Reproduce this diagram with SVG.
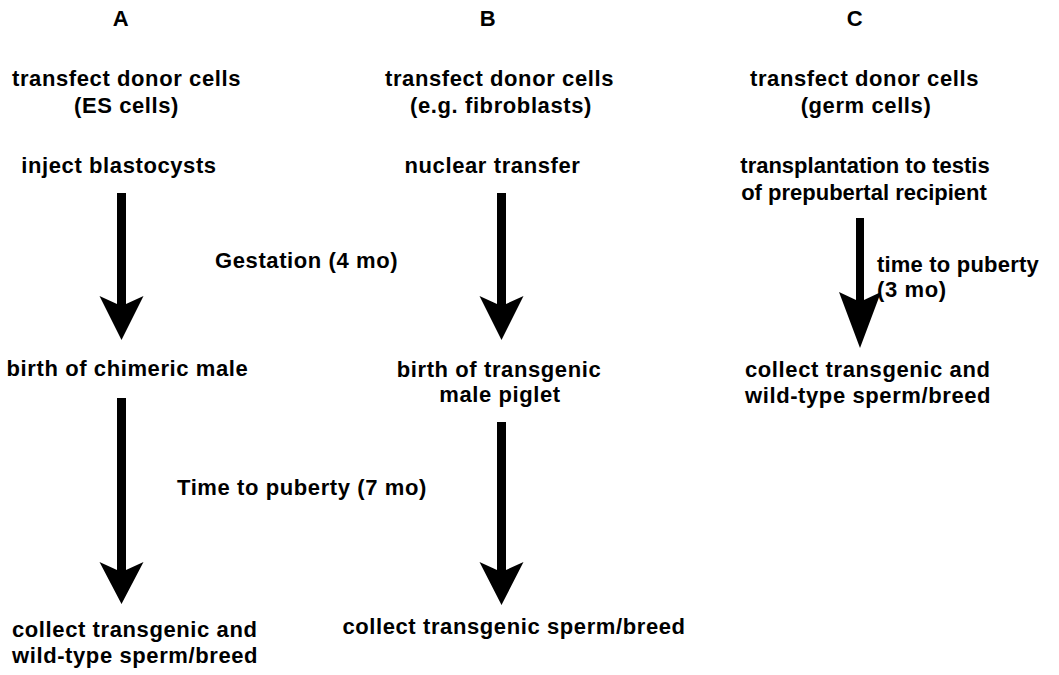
<svg xmlns="http://www.w3.org/2000/svg" width="1059" height="675" viewBox="0 0 1059 675">
<style>
text{font-family:"Liberation Sans",Arial,sans-serif;font-weight:bold;font-size:22px;letter-spacing:0.6px;fill:#000}
.m{text-anchor:middle}
.t{letter-spacing:0px}
.arrow{fill:#000;stroke:none}
</style>
<rect width="1059" height="675" fill="#fff"/>
<g id="colA">
<g id="A-label"><text class="m" x="121" y="26">A</text></g>
<g id="A-transfect"><text class="m" x="126.5" y="86">transfect donor cells</text><text class="m" x="126.5" y="113">(ES cells)</text></g>
<g id="A-inject"><text class="m" x="119" y="173">inject blastocysts</text></g>
<g id="A-gestation"><text x="215" y="268">Gestation (4 mo)</text></g>
<g id="A-birth"><text class="m" x="127.5" y="376">birth of chimeric male</text></g>
<g id="A-puberty"><text x="177" y="495">Time to puberty (7 mo)</text></g>
<g id="A-collect"><text x="12" y="637">collect transgenic and</text><text x="12" y="663">wild-type sperm/breed</text></g>
</g>
<g id="colB">
<g id="B-label"><text class="m" x="488" y="26">B</text></g>
<g id="B-transfect"><text class="m" x="499.5" y="86">transfect donor cells</text><text class="m" x="501" y="113">(e.g. fibroblasts)</text></g>
<g id="B-nuclear"><text class="m" x="492.5" y="173">nuclear transfer</text></g>
<g id="B-birth"><text class="m" x="499" y="377">birth of transgenic</text><text class="m" x="500" y="402">male piglet</text></g>
<g id="B-collect"><text class="m" x="514" y="634">collect transgenic sperm/breed</text></g>
</g>
<g id="colC">
<g id="C-label"><text class="m" x="855" y="26">C</text></g>
<g id="C-transfect"><text class="m" x="864.5" y="86">transfect donor cells</text><text class="m" x="866" y="113">(germ cells)</text></g>
<g id="C-transplant"><text class="m t" x="865" y="173">transplantation to testis</text><text class="m t" x="864" y="200">of prepubertal recipient</text></g>
<g id="C-puberty"><text x="877" y="272" style="letter-spacing:0.2px">time to puberty</text><text x="877" y="297">(3 mo)</text></g>
<g id="C-collect"><text x="745" y="377">collect transgenic and</text><text x="745" y="403">wild-type sperm/breed</text></g>
</g>
<g id="connectors">
<path class="arrow" d="M117,193 H126 V304 L143.5,296 L121.5,340 L99.5,296 L117,304 Z"/>
<path class="arrow" d="M117,398 H126 V570 L143.5,562 L121.5,604 L99.5,562 L117,570 Z"/>
<path class="arrow" d="M497,193 H506 V304 L523.5,296 L501.5,340 L479.5,296 L497,304 Z"/>
<path class="arrow" d="M497,422 H506 V570 L523.5,562 L501.5,605 L479.5,562 L497,570 Z"/>
<path class="arrow" d="M856,218 H864 V300 L881,292 L860,348 L839,292 L856,300 Z"/>
</g>
</svg>
